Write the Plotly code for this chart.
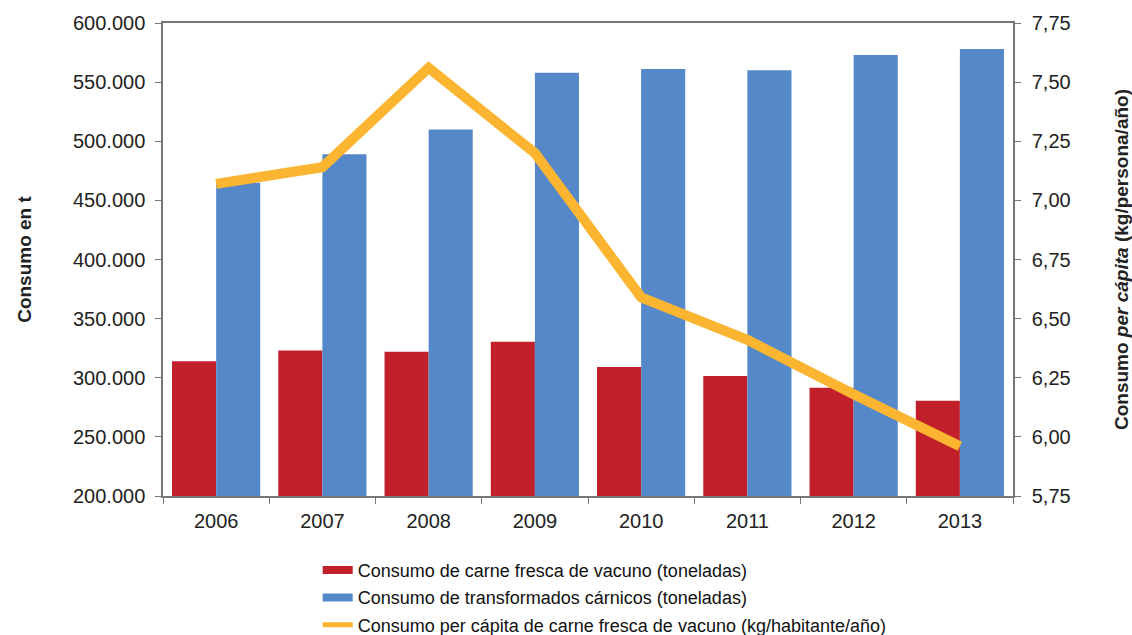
import plotly.graph_objects as go

years = ["2006", "2007", "2008", "2009", "2010", "2011", "2012", "2013"]
carne_fresca_t = [314000, 323000, 322000, 330500, 309000, 301500, 291500, 280500]
transformados_t = [465000, 489000, 510000, 558000, 561000, 560000, 573000, 578000]
per_capita_kg = [7.07, 7.14, 7.56, 7.20, 6.59, 6.41, 6.18, 5.96]

name_fresca = "Consumo de carne fresca de vacuno (toneladas)"
name_transf = "Consumo de transformados cárnicos (toneladas)"
name_capita = "Consumo per cápita de carne fresca de vacuno (kg/habitante/año)"

RED = "#C11F29"
BLUE = "#5488C8"
YELLOW = "#FBB530"
FONT = "Liberation Sans, Arial, sans-serif"

fig = go.Figure()

fig.add_trace(go.Bar(x=years, y=carne_fresca_t, name=name_fresca, marker_color=RED,
                     marker_line_width=0, showlegend=False, yaxis="y"))
fig.add_trace(go.Bar(x=years, y=transformados_t, name=name_transf, marker_color=BLUE,
                     marker_line_width=0, showlegend=False, yaxis="y"))
fig.add_trace(go.Scatter(x=years, y=per_capita_kg, name=name_capita, mode="lines",
                         line=dict(color=YELLOW, width=10), yaxis="y2", showlegend=False))

# legend entries drawn as short thick strokes
for nm, col, w in [(name_fresca, RED, 8), (name_transf, BLUE, 8), (name_capita, YELLOW, 5)]:
    fig.add_trace(go.Scatter(x=[None], y=[None], mode="lines", name=nm,
                             line=dict(color=col, width=w), legendgroup=nm, yaxis="y"))

fig.update_layout(
    width=1132, height=635,
    margin=dict(l=163, r=119, t=23, b=139, autoexpand=False),
    paper_bgcolor="white", plot_bgcolor="white",
    separators=",.",
    barmode="group", bargap=0.17, bargroupgap=0,
    font=dict(family=FONT, color="#222222", size=20),
    xaxis=dict(type="category", showline=True, linecolor="#777777", linewidth=1.5,
               mirror=True, ticks="outside", tickson="boundaries", ticklen=6,
               tickcolor="#777777", tickfont=dict(size=20), showgrid=False,
               ticklabelstandoff=6),
    yaxis=dict(range=[200000, 600000], tickvals=[200000 + 50000 * i for i in range(9)],
               tickformat=",.0f", showline=True, linecolor="#777777", linewidth=1.5,
               ticks="outside", ticklen=6, tickcolor="#777777", showgrid=False,
               zeroline=False, tickfont=dict(size=20), ticklabelstandoff=6,
               title=dict(text="<b>Consumo en t</b>", font=dict(size=19), standoff=36)),
    yaxis2=dict(range=[5.75, 7.75], tickvals=[5.75 + 0.25 * i for i in range(9)],
                tickformat=".2f", overlaying="y", side="right", showline=True,
                linecolor="#777777", linewidth=1.5, ticks="outside", ticklen=6,
                tickcolor="#777777", showgrid=False, zeroline=False,
                tickfont=dict(size=20), ticklabelstandoff=7,
                title=dict(text="<b>Consumo <i>per cápita</i> (kg/persona/año)</b>",
                           font=dict(size=19), standoff=46)),
    legend=dict(x=0.182, xanchor="left", y=-0.118, yanchor="top",
                font=dict(size=18, color="#111111"), tracegroupgap=1,
                bgcolor="rgba(0,0,0,0)"),
)

fig.write_html("out.html")
